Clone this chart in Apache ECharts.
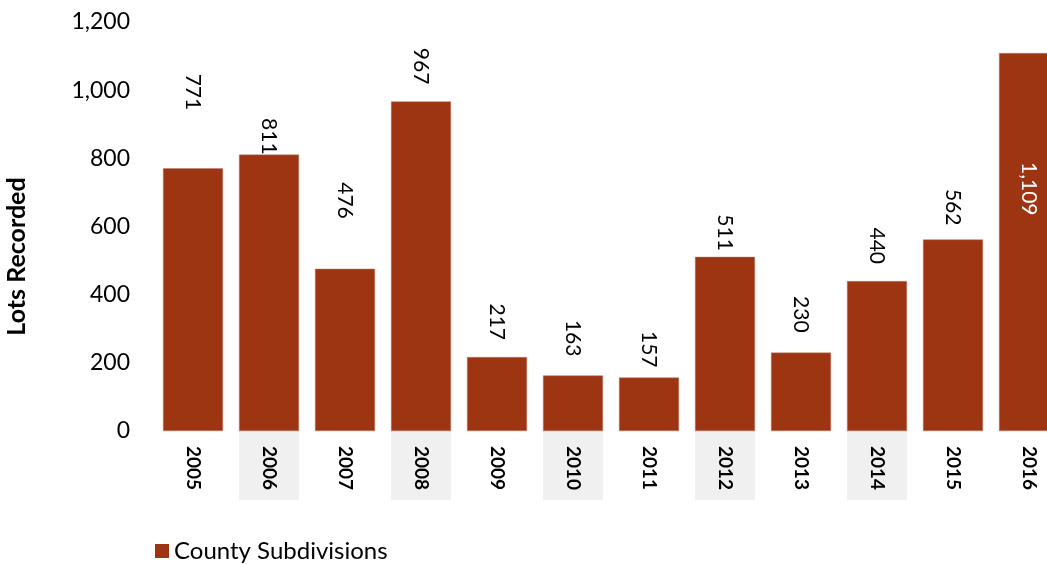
<!DOCTYPE html>
<html>
<head>
<meta charset="utf-8">
<script src="https://cdn.jsdelivr.net/npm/echarts@6/dist/echarts.min.js"></script>
<style>html,body{margin:0;padding:0;background:#fff;overflow:hidden}#c{width:1047px;height:564px}</style>
</head>
<body>
<div id="c"></div>
<script>
const years = ['2005','2006','2007','2008','2009','2010','2011','2012','2013','2014','2015','2016'];
const lots = [771, 811, 476, 967, 217, 163, 157, 511, 230, 440, 562, 1109];
const shadedYears = ['2006','2008','2010','2012','2014'];
const yTicks = [0, 200, 400, 600, 800, 1000, 1200];
const seriesName = 'County Subdivisions';
const axisTitle = 'Lots Recorded';

// label gap above each bar (style only)
const labelGap = [58, 0, 50, 17, 17, 19, 10, 6, 20, 17, 14, 109];
const insideLabel = ['2016'];

const FONT = 'Lato, "Open Sans", sans-serif';
const BAR = '#9D3512';

const barData = lots.map((v, i) => {
  const inside = insideLabel.includes(years[i]);
  return {
    value: v,
    label: inside ? {
      position: 'insideTop', distance: labelGap[i], align: 'left', color: '#ffffff'
    } : {
      position: 'top', distance: labelGap[i], align: 'right', color: '#000000'
    }
  };
});
const bandData = years.map(y => shadedYears.includes(y) ? 1 : '-');

const chart = echarts.init(document.getElementById('c'), null, {renderer: 'canvas'});
chart.setOption({
  animation: false,
  backgroundColor: '#ffffff',
  grid: [
    {left: 155, top: 22, width: 912, height: 409, outerBoundsMode: 'none', containLabel: false},
    {left: 155, top: 431, width: 912, height: 69, outerBoundsMode: 'none', containLabel: false}
  ],
  legend: {
    data: [seriesName], left: 150, top: 534, icon: 'rect', itemWidth: 14, itemHeight: 14,
    itemStyle: {borderWidth: 0},
    textStyle: {fontFamily: FONT, fontSize: 24, color: '#000'}
  },
  xAxis: [
    {
      type: 'category', data: years, gridIndex: 0,
      axisLine: {show: false}, axisTick: {show: false},
      axisLabel: {rotate: -90, margin: 15, fontFamily: FONT, fontSize: 19, fontWeight: 'bold', color: '#000', interval: 0}
    },
    {
      type: 'category', data: years, gridIndex: 1, show: false
    }
  ],
  yAxis: [
    {
      type: 'value', gridIndex: 0, min: yTicks[0], max: yTicks[yTicks.length - 1], interval: 200,
      name: axisTitle, nameLocation: 'middle', nameGap: 126,
      nameTextStyle: {fontFamily: FONT, fontSize: 25, fontWeight: 'bold', color: '#000', padding: [0, 60, 0, 0]},
      axisLine: {show: false}, axisTick: {show: false}, splitLine: {show: false},
      axisLabel: {margin: 25, fontFamily: FONT, fontSize: 23, color: '#000',
        formatter: v => v.toLocaleString('en-US')}
    },
    {type: 'value', gridIndex: 1, min: 0, max: 1, show: false}
  ],
  series: [
    {
      name: seriesName, type: 'bar', xAxisIndex: 0, yAxisIndex: 0, barWidth: 60,
      itemStyle: {color: BAR, borderColor: '#c07a66', borderWidth: 0.5},
      label: {show: true, rotate: -90, verticalAlign: 'middle', fontFamily: FONT, fontSize: 21,
        formatter: p => p.value.toLocaleString('en-US')},
      data: barData
    },
    {
      name: 'band', type: 'bar', xAxisIndex: 1, yAxisIndex: 1, barWidth: 60, z: -1,
      itemStyle: {color: '#f0f0f0'}, silent: true, data: bandData
    }
  ]
});
</script>
</body>
</html>
